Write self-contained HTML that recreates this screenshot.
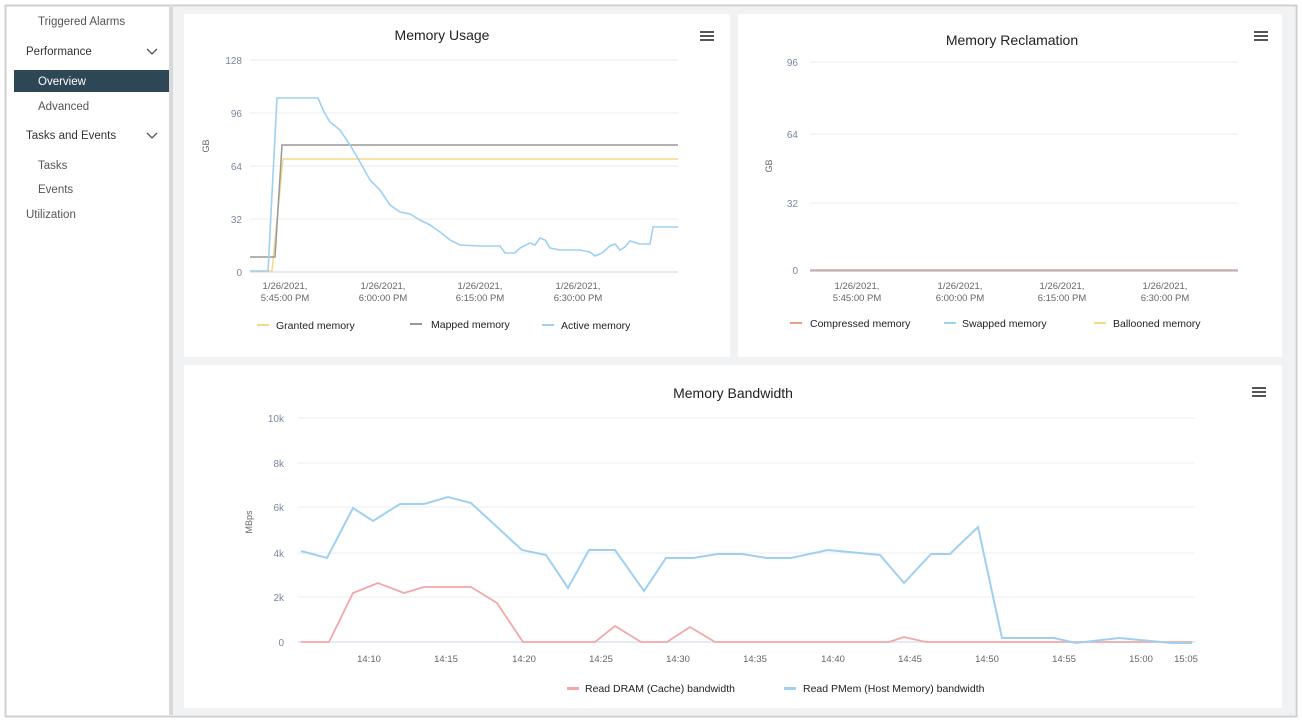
<!DOCTYPE html>
<html><head><meta charset="utf-8"><style>
body{margin:0;width:1302px;height:721px;background:#fff;font-family:"Liberation Sans",sans-serif;overflow:hidden}
</style></head><body>
<svg width="1302" height="721" xmlns="http://www.w3.org/2000/svg" font-family="Liberation Sans, sans-serif">
<rect x="0" y="0" width="1302" height="721" fill="#fff"/>
<rect x="5.5" y="5.5" width="1291" height="711" fill="#fff" stroke="#cfcfcf" stroke-width="2"/>
<rect x="171" y="7" width="1124" height="708" fill="#f1f2f3"/>
<rect x="169" y="7" width="4" height="708" fill="#d8d8d8"/>
<!-- sidebar -->
<g font-size="11.5" fill="#555">
<text x="38" y="25">Triggered Alarms</text>
<text x="26" y="55" fill="#333">Performance</text>
<path d="M147 49 l5 5 l5 -5" fill="none" stroke="#555" stroke-width="1.3"/>
<rect x="14" y="70" width="155" height="22" fill="#2d4756"/>
<text x="38" y="85" fill="#fff">Overview</text>
<text x="38" y="110">Advanced</text>
<text x="26" y="139" fill="#333">Tasks and Events</text>
<path d="M147 133 l5 5 l5 -5" fill="none" stroke="#555" stroke-width="1.3"/>
<text x="38" y="169">Tasks</text>
<text x="38" y="193">Events</text>
<text x="26" y="218">Utilization</text>
</g>
<!-- panels -->
<rect x="184" y="14" width="546" height="343" fill="#fff"/>
<rect x="738" y="14" width="544" height="343" fill="#fff"/>
<rect x="184" y="365" width="1098" height="343" fill="#fff"/>
<!-- menu icons -->
<g fill="#555">
<rect x="700" y="31" width="14" height="2"/><rect x="700" y="35" width="14" height="2"/><rect x="700" y="39" width="14" height="2"/>
<rect x="1254" y="31" width="14" height="2"/><rect x="1254" y="35" width="14" height="2"/><rect x="1254" y="39" width="14" height="2"/>
<rect x="1252" y="387" width="14" height="2"/><rect x="1252" y="391" width="14" height="2"/><rect x="1252" y="395" width="14" height="2"/>
</g>
<!-- Memory Usage -->
<text x="442" y="40" font-size="14" text-anchor="middle" fill="#222">Memory Usage</text>
<g stroke="#ececec" stroke-width="1">
<line x1="250" y1="60" x2="678" y2="60"/><line x1="250" y1="113" x2="678" y2="113"/><line x1="250" y1="166" x2="678" y2="166"/><line x1="250" y1="219" x2="678" y2="219"/>
</g>
<line x1="250" y1="272" x2="678" y2="272" stroke="#cdd6e6"/>
<g font-size="10" fill="#7a86a0" text-anchor="end">
<text x="242" y="64">128</text><text x="242" y="117">96</text><text x="242" y="170">64</text><text x="242" y="223">32</text><text x="242" y="276">0</text>
</g>
<text x="209" y="146" font-size="9" fill="#666" transform="rotate(-90 209 146)" text-anchor="middle">GB</text>
<g font-size="9.5" fill="#666" text-anchor="middle">
<text x="285" y="289">1/26/2021,</text><text x="285" y="301">5:45:00 PM</text>
<text x="383" y="289">1/26/2021,</text><text x="383" y="301">6:00:00 PM</text>
<text x="480" y="289">1/26/2021,</text><text x="480" y="301">6:15:00 PM</text>
<text x="578" y="289">1/26/2021,</text><text x="578" y="301">6:30:00 PM</text>
</g>
<polyline fill="none" stroke="#f5d98a" stroke-width="1.5" points="250,271 272,271 283,159 678,159"/>
<polyline fill="none" stroke="#999" stroke-width="1.5" points="250,257 275,257 282,145 678,145"/>
<polyline fill="none" stroke="#9fd0f2" stroke-width="1.6" points="250,271 268,271 277,98 318,98 324,112 330,122 340,130 350,145 360,162 370,180 380,190 390,205 400,212 410,214 420,220 430,225 440,232 450,240 460,245 480,246 500,246 505,253 515,253 520,248 530,243 535,245 540,238 545,240 550,248 560,250 580,250 590,252 595,256 602,253 610,246 615,244 620,250 625,247 630,241 640,244 650,244 653,227 678,227"/>
<g font-size="10.5" fill="#222">
<rect x="257" y="324" width="12" height="2" fill="#f5d98a"/><text x="276" y="329">Granted memory</text>
<rect x="410" y="323" width="12" height="2" fill="#999"/><text x="431" y="328">Mapped memory</text>
<rect x="542" y="324" width="12" height="2" fill="#9fd0f2"/><text x="561" y="329">Active memory</text>
</g>
<!-- Memory Reclamation -->
<text x="1012" y="45" font-size="14" text-anchor="middle" fill="#222">Memory Reclamation</text>
<g stroke="#ececec"><line x1="810" y1="62" x2="1238" y2="62"/><line x1="810" y1="134" x2="1238" y2="134"/><line x1="810" y1="203" x2="1238" y2="203"/></g>
<g font-size="10" fill="#7a86a0" text-anchor="end">
<text x="798" y="66">96</text><text x="798" y="138">64</text><text x="798" y="207">32</text><text x="798" y="274">0</text>
</g>
<text x="772" y="166" font-size="9" fill="#666" transform="rotate(-90 772 166)" text-anchor="middle">GB</text>
<line x1="810" y1="271" x2="1238" y2="271" stroke="#9fd0f2" stroke-width="1.5"/>
<line x1="810" y1="270" x2="1238" y2="270" stroke="#e8a080" stroke-width="1.5"/>
<g font-size="9.5" fill="#666" text-anchor="middle">
<text x="857" y="289">1/26/2021,</text><text x="857" y="301">5:45:00 PM</text>
<text x="960" y="289">1/26/2021,</text><text x="960" y="301">6:00:00 PM</text>
<text x="1062" y="289">1/26/2021,</text><text x="1062" y="301">6:15:00 PM</text>
<text x="1165" y="289">1/26/2021,</text><text x="1165" y="301">6:30:00 PM</text>
</g>
<g font-size="10.5" fill="#222">
<rect x="790" y="322" width="12" height="2" fill="#e8a080"/><text x="810" y="327">Compressed memory</text>
<rect x="944" y="322" width="12" height="2" fill="#9fd0f2"/><text x="962" y="327">Swapped memory</text>
<rect x="1094" y="322" width="12" height="2" fill="#f5d98a"/><text x="1113" y="327">Ballooned memory</text>
</g>
<!-- Memory Bandwidth -->
<text x="733" y="398" font-size="14" text-anchor="middle" fill="#222">Memory Bandwidth</text>
<g stroke="#ececec"><line x1="298" y1="418" x2="1195" y2="418"/><line x1="298" y1="463" x2="1195" y2="463"/><line x1="298" y1="507" x2="1195" y2="507"/><line x1="298" y1="553" x2="1195" y2="553"/><line x1="298" y1="597" x2="1195" y2="597"/></g>
<line x1="298" y1="642" x2="1195" y2="642" stroke="#cdd6e6"/>
<g font-size="10" fill="#7a86a0" text-anchor="end">
<text x="284" y="422">10k</text><text x="284" y="467">8k</text><text x="284" y="511">6k</text><text x="284" y="557">4k</text><text x="284" y="601">2k</text><text x="284" y="646">0</text>
</g>
<text x="252" y="522" font-size="9" fill="#666" transform="rotate(-90 252 522)" text-anchor="middle">MBps</text>
<g font-size="9.5" fill="#666" text-anchor="middle">
<text x="369" y="662">14:10</text><text x="446" y="662">14:15</text><text x="524" y="662">14:20</text><text x="601" y="662">14:25</text><text x="678" y="662">14:30</text><text x="755" y="662">14:35</text><text x="833" y="662">14:40</text><text x="910" y="662">14:45</text><text x="987" y="662">14:50</text><text x="1064" y="662">14:55</text><text x="1141" y="662">15:00</text><text x="1186" y="662">15:05</text>
</g>
<polyline fill="none" stroke="#f2a8a8" stroke-width="1.8" points="301,642 329,642 353,593 378,583 404,593 424,587 471,587 497,603 523,642 595,642 615,626 641,642 667,642 690,627 715,642 889,642 904,637 926,642 1192,642"/>
<polyline fill="none" stroke="#9fd0f2" stroke-width="2" points="301,551 327,558 353,508 373,521 400,504 424,504 448,497 471,503 522,550 546,555 568,588 589,550 615,550 644,591 666,558 693,558 718,554 742,554 767,558 791,558 828,550 880,555 904,583 931,554 950,554 978,527 1002,638 1054,638 1076,643 1119,638 1171,643 1192,643"/>
<g font-size="10.5" fill="#222">
<rect x="567" y="687" width="12" height="3" fill="#f2a8a8"/><text x="585" y="692">Read DRAM (Cache) bandwidth</text>
<rect x="784" y="687" width="12" height="3" fill="#9fd0f2"/><text x="803" y="692">Read PMem (Host Memory) bandwidth</text>
</g>
</svg>
</body></html>
